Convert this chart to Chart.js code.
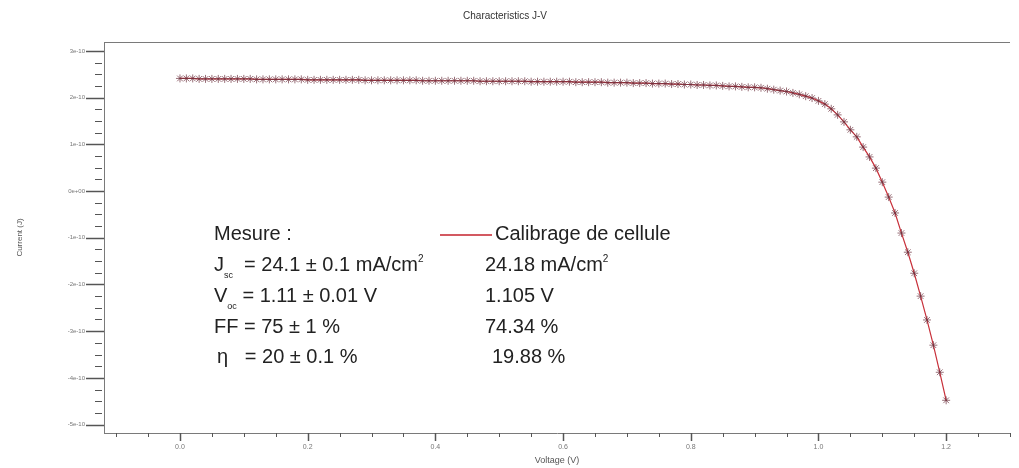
<!DOCTYPE html>
<html>
<head>
<meta charset="utf-8">
<script src="https://cdn.jsdelivr.net/npm/chart.js@4/dist/chart.umd.min.js"></script>
<style>
  body { margin: 0; background: #fff; }
  #wrap { position: relative; width: 1019px; height: 468px; }
  .note { position: absolute; font-family: 'Liberation Sans', Arial, sans-serif; font-size: 20px; color: #222; white-space: pre; line-height: 22px; }
  .note sub, .note sup { position: relative; vertical-align: baseline; line-height: 0; }
  .note sub { font-size: 9px; top: 7px; }
  .note sup { font-size: 10px; top: -9px; }
  #legendLine { position: absolute; left: 440px; top: 234px; width: 52px; height: 0; border-top: 2px solid rgba(200, 48, 58, 0.8); }
</style>
</head>
<body>
<div id="wrap">
  <canvas id="myChart" width="1019" height="468"></canvas>
  <div class="note" style="left:214px; top:222px">Mesure :</div>
  <div class="note" style="left:214px; top:253px">J<sub>sc</sub>  = 24.1 ± 0.1 mA/cm<sup>2</sup></div>
  <div class="note" style="left:214px; top:284px">V<sub>oc</sub> = 1.11 ± 0.01 V</div>
  <div class="note" style="left:214px; top:315px">FF = 75 ± 1 %</div>
  <div class="note" style="left:217px; top:345px">η   = 20 ± 0.1 %</div>
  <div id="legendLine"></div>
  <div class="note" style="left:495px; top:222px">Calibrage de cellule</div>
  <div class="note" style="left:485px; top:253px">24.18 mA/cm<sup>2</sup></div>
  <div class="note" style="left:485px; top:284px">1.105 V</div>
  <div class="note" style="left:485px; top:315px">74.34 %</div>
  <div class="note" style="left:492px; top:345px">19.88 %</div>
</div>
<script>
// voltage (V)
const voltage = [
  0.00, 0.01, 0.02, 0.03, 0.04, 0.05, 0.06, 0.07, 0.08, 0.09,
  0.10, 0.11, 0.12, 0.13, 0.14, 0.15, 0.16, 0.17, 0.18, 0.19,
  0.20, 0.21, 0.22, 0.23, 0.24, 0.25, 0.26, 0.27, 0.28, 0.29,
  0.30, 0.31, 0.32, 0.33, 0.34, 0.35, 0.36, 0.37, 0.38, 0.39,
  0.40, 0.41, 0.42, 0.43, 0.44, 0.45, 0.46, 0.47, 0.48, 0.49,
  0.50, 0.51, 0.52, 0.53, 0.54, 0.55, 0.56, 0.57, 0.58, 0.59,
  0.60, 0.61, 0.62, 0.63, 0.64, 0.65, 0.66, 0.67, 0.68, 0.69,
  0.70, 0.71, 0.72, 0.73, 0.74, 0.75, 0.76, 0.77, 0.78, 0.79,
  0.80, 0.81, 0.82, 0.83, 0.84, 0.85, 0.86, 0.87, 0.88, 0.89,
  0.90, 0.91, 0.92, 0.93, 0.94, 0.95, 0.96, 0.97, 0.98, 0.99,
  1.00, 1.01, 1.02, 1.03, 1.04, 1.05, 1.06, 1.07, 1.08, 1.09,
  1.10, 1.11, 1.12, 1.13, 1.14, 1.15, 1.16, 1.17, 1.18, 1.19, 1.20
];
// current, in units of 1e-10
const current = [
  2.41, 2.41, 2.41, 2.40, 2.40, 2.40, 2.40, 2.40, 2.40, 2.40,
  2.40, 2.40, 2.39, 2.39, 2.39, 2.39, 2.39, 2.39, 2.39, 2.39,
  2.38, 2.38, 2.38, 2.38, 2.38, 2.38, 2.38, 2.38, 2.38, 2.37,
  2.37, 2.37, 2.37, 2.37, 2.37, 2.37, 2.37, 2.37, 2.36, 2.36,
  2.36, 2.36, 2.36, 2.36, 2.36, 2.36, 2.36, 2.35, 2.35, 2.35,
  2.35, 2.35, 2.35, 2.35, 2.35, 2.34, 2.34, 2.34, 2.34, 2.34,
  2.34, 2.34, 2.33, 2.33, 2.33, 2.33, 2.33, 2.32, 2.32, 2.32,
  2.32, 2.31, 2.31, 2.31, 2.30, 2.30, 2.30, 2.29, 2.29, 2.28,
  2.28, 2.27, 2.27, 2.26, 2.26, 2.25, 2.24, 2.24, 2.23, 2.22,
  2.22, 2.21, 2.19, 2.17, 2.15, 2.13, 2.10, 2.07, 2.03, 1.99,
  1.93, 1.86, 1.76, 1.63, 1.48, 1.31, 1.16, 0.94, 0.73, 0.49,
  0.19, -0.13, -0.47, -0.90, -1.31, -1.76, -2.25, -2.76, -3.30, -3.88, -4.48
];

const xTicks = [0, 0.2, 0.4, 0.6, 0.8, 1.0, 1.2];
const xTickLabels = ['0.0', '0.2', '0.4', '0.6', '0.8', '1.0', '1.2'];
const yTicks = [-5, -4, -3, -2, -1, 0, 1, 2, 3];
const yTickLabels = ['-5e-10', '-4e-10', '-3e-10', '-2e-10', '-1e-10', '0e+00', '1e-10', '2e-10', '3e-10'];

const axisColor = '#7a7a7a';

// major + minor tick marks and the top frame line
const tickMarks = {
    id: 'tickMarks',
    afterDraw(chart) {
        const c = chart.ctx;
        const xs = chart.scales.x, ys = chart.scales.y;
        const area = chart.chartArea;
        c.save();
        c.strokeStyle = axisColor;
        c.lineWidth = 1;
        c.beginPath();
        c.moveTo(area.left, area.top + 0.5);
        c.lineTo(area.right, area.top + 0.5);
        c.stroke();

        c.strokeStyle = '#555';
        for (let i = -2; i <= 26; i++) {
            const px = Math.round(xs.getPixelForValue(i * 0.05)) + 0.5;
            const major = i >= 0 && i % 4 === 0;
            c.lineWidth = major ? 1.5 : 1;
            c.beginPath();
            c.moveTo(px, area.bottom);
            c.lineTo(px, area.bottom + (major ? 8 : 4));
            c.stroke();
        }
        for (let i = -20; i <= 12; i++) {
            const py = Math.round(ys.getPixelForValue(i * 0.25)) + 0.5;
            const major = i % 4 === 0;
            c.lineWidth = major ? 1.5 : 1;
            c.beginPath();
            if (major) {
                c.moveTo(area.left - 18, py);
                c.lineTo(area.left, py);
            } else {
                c.moveTo(area.left - 9, py);
                c.lineTo(area.left - 2, py);
            }
            c.stroke();
        }
        c.restore();
    }
};

const ctx = document.getElementById('myChart');

let chart = new Chart(ctx, {
    type: 'line',
    data: {
        labels: voltage,
        datasets: [{
            label: 'Calibrage de cellule',
            data: voltage.map((v, i) => ({ x: v, y: current[i] })),
            borderColor: '#c8303a',
            borderWidth: 1.2,
            pointStyle: 'star',
            pointRadius: 4,
            pointBorderColor: 'rgba(110, 50, 62, 0.7)',
            pointBorderWidth: 1,
            pointBackgroundColor: 'rgba(0,0,0,0)',
            tension: 0
        }]
    },
    options: {
        responsive: false,
        animation: false,
        layout: { padding: { left: 0, right: 9, top: 0, bottom: 0 } },
        plugins: {
            legend: { display: false },
            tooltip: { enabled: false },
            title: {
                display: true,
                text: 'Characteristics J-V',
                color: '#333',
                font: { family: "'Liberation Sans', Arial, sans-serif", size: 10, weight: 'normal' },
                padding: { top: 10, bottom: 20 }
            }
        },
        scales: {
            x: {
                type: 'linear',
                min: -0.119,
                max: 1.3,
                afterFit: s => { s.height = 35; },
                afterBuildTicks: s => { s.ticks = xTicks.map(v => ({ value: v })); },
                grid: { display: false, drawTicks: false },
                border: { display: true, color: axisColor, width: 1 },
                ticks: {
                    padding: 10,
                    color: '#777',
                    font: { family: "'Liberation Sans', Arial, sans-serif", size: 7 },
                    autoSkip: false,
                    maxRotation: 0,
                    callback: (v, i) => xTickLabels[i]
                },
                title: {
                    display: true,
                    text: 'Voltage (V)',
                    color: '#555',
                    font: { family: "'Liberation Sans', Arial, sans-serif", size: 9 },
                    padding: { top: 0, bottom: 2 }
                }
            },
            y: {
                min: -5.18,
                max: 3.19,
                afterFit: s => { s.width = 104; },
                afterBuildTicks: s => { s.ticks = yTicks.map(v => ({ value: v })); },
                grid: { display: false, drawTicks: false },
                border: { display: true, color: axisColor, width: 1 },
                ticks: {
                    padding: 19,
                    color: '#777',
                    font: { family: "'Liberation Sans', Arial, sans-serif", size: 6 },
                    autoSkip: false,
                    callback: (v, i) => yTickLabels[i]
                },
                title: {
                    display: true,
                    text: 'Current (J)',
                    color: '#555',
                    font: { family: "'Liberation Sans', Arial, sans-serif", size: 8 },
                    padding: { top: 15, bottom: 0 }
                }
            }
        }
    },
    plugins: [tickMarks]
});
</script>
</body>
</html>
